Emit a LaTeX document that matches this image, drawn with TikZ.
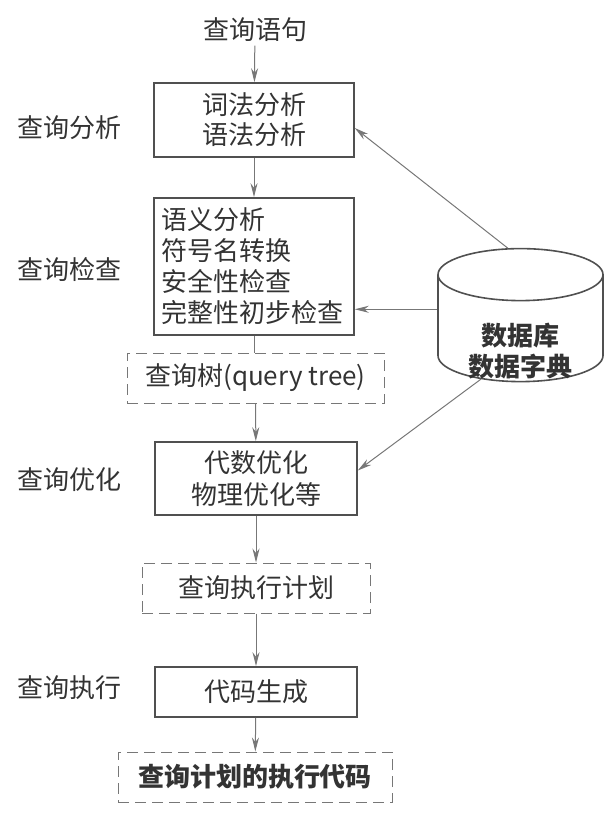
\documentclass[tikz,border=0pt]{standalone}
\usepackage{fontspec}
\setmainfont{Noto Sans CJK SC}
\usetikzlibrary{arrows.meta, shapes.geometric}

\definecolor{boxgray}{HTML}{505050}
\definecolor{linegray}{HTML}{777777}
\definecolor{textgray}{HTML}{333333}

\tikzset{
  stagebox/.style={draw=boxgray, line width=1.6pt, text=textgray, minimum width=200pt, inner sep=7pt},
  resultbox/.style={draw=linegray, line width=1pt, dash pattern=on 11pt off 6pt, text=textgray, minimum height=50pt},
  flow/.style={->, draw=linegray, line width=1pt},
  phase/.style={anchor=west, text=textgray},
}

\begin{document}
\begin{tikzpicture}[x=1pt, y=-1pt, >={Stealth[length=14pt, width=7pt]},
  font=\fontsize{26}{30}\selectfont]

\useasboundingbox (0,0) rectangle (611,823);

% Input statement and processing stages
\node (q)  at (255, 30)    [text=textgray] {查询语句};
\node (b1) at (254, 120)   [stagebox, minimum height=74pt, align=center] {词法分析\\语法分析};
\node (b2) at (254, 266.5) [stagebox, minimum height=137pt, align=left, text width=186pt,
  font=\fontsize{26}{31}\selectfont] {语义分析\\符号名转换\\安全性检查\\完整性初步检查};
\node (t1) at (255.5, 378) [resultbox, minimum width=257pt] {查询树(query tree)};
\node (b3) at (256, 478.5) [stagebox, minimum height=73pt, minimum width=202pt, align=center,
  font=\fontsize{26}{32}\selectfont] {代数优化\\物理优化等};
\node (t2) at (256, 588)   [resultbox, minimum width=228pt] {查询执行计划};
\node (b4) at (256, 692)   [stagebox, minimum height=50pt, minimum width=202pt] {代码生成};
\node (t3) at (255, 777)   [resultbox, minimum width=274pt, font=\fontsize{26}{30}\selectfont\bfseries] {查询计划的执行代码};

% Phase labels on the left
\node (p1) at (14, 128) [phase] {查询分析};
\node (p2) at (14, 270) [phase] {查询检查};
\node (p3) at (14, 480) [phase] {查询优化};
\node (p4) at (14, 688) [phase] {查询执行};

% Database / data dictionary
\node (db) at (520.5, 328.5) [cylinder, shape border rotate=90, aspect=0.5, draw=boxgray, line width=1.6pt,
  minimum width=165pt, minimum height=133pt, text=textgray, inner sep=0pt,
  font=\fontsize{26}{28}\selectfont\bfseries]
  {\raisebox{-32pt}[0pt][0pt]{\begin{tabular}{@{}c@{}}数据库\\数据字典\end{tabular}}};

% Main flow
\draw[flow] (q) -- (b1);
\draw[flow] (b1) -- (b2);
\draw[draw=linegray, line width=1pt] (b2.south) -- (t1.north -| b2.south);
\draw[flow] (t1) -- (b3);
\draw[flow] (b3) -- (t2);
\draw[flow] (t2) -- (b4);
\draw[flow] (b4) -- (t3);

% Lookups into the data dictionary
\draw[flow] (db.99)  -- ([yshift=-8pt]b1.east);
\draw[flow] (db.167) -- (db.167 -| b2.east);
\draw[flow] (db.232) -- ([yshift=8pt]b3.east);

\end{tikzpicture}
\end{document}
